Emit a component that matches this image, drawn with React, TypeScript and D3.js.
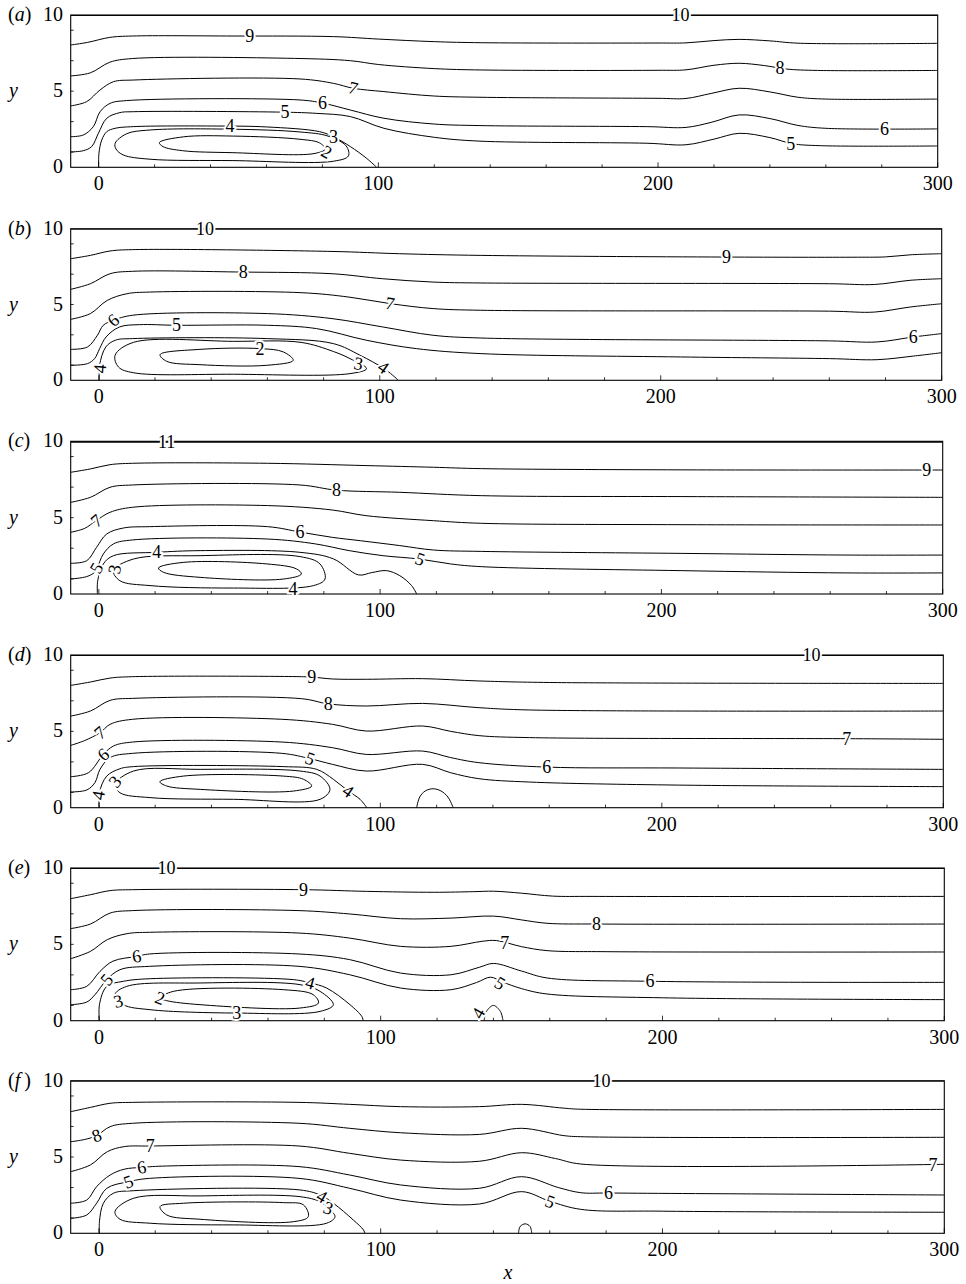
import React from "react";
import * as d3 from "d3";

type Pt = [number, number];
interface Contour { level: number; pts: Pt[]; closed?: boolean }
interface Label { t: string; x: number; y: number; rot?: number }

// axis ticks
const xTicks = [0, 20, 40, 60, 80, 100, 120, 140, 160, 180, 200, 220, 240, 260, 280, 300];
const xTickLabels = [0, 100, 200, 300];
const yTicks = [1, 3, 5, 7, 9];
const yTickLabels = [0, 5, 10];
const panelLetters = ["a", "b", "c", "d", "e", "f"];

// ---- panel (a)
const aLines: Contour[] = [
  { level: 10, pts: [[-10, 9.97], [300, 9.97]] },
  { level: 9, pts: [[-10, 8.03], [-4, 8.2], [4, 8.53], [12, 8.62], [48, 8.62], [84, 8.58], [100, 8.42], [120, 8.25], [137, 8.18], [200, 8.16], [210, 8.17], [220, 8.32], [229, 8.4], [240, 8.3], [250, 8.15], [300, 8.14]] },
  { level: 8, pts: [[-10, 6.0], [-3, 6.2], [4, 6.9], [12, 7.14], [70, 7.15], [90, 7.0], [100, 6.75], [120, 6.48], [137, 6.39], [200, 6.37], [210, 6.4], [220, 6.7], [229, 6.83], [238, 6.68], [246, 6.45], [257, 6.36], [300, 6.36]] },
  { level: 7, pts: [[-10, 4.03], [-4.3, 4.31], [0.5, 5.08], [5.3, 5.62], [12.4, 5.73], [72, 5.8], [84, 5.51], [91, 5.19], [102, 4.97], [120, 4.68], [136, 4.6], [200, 4.53], [210, 4.52], [219, 4.85], [229, 5.19], [240, 4.95], [250, 4.6], [260, 4.48], [300, 4.48]] },
  { level: 6, pts: [[-10, 2.01], [-5.5, 2.12], [-1.9, 2.67], [0.5, 3.65], [4.1, 4.2], [10, 4.38], [72, 4.42], [80, 4.22], [90, 3.76], [102, 3.22], [120, 2.84], [136, 2.74], [196, 2.67], [210, 2.62], [219, 2.95], [229, 3.44], [240, 3.2], [250, 2.75], [260, 2.56], [300, 2.52]] },
  { level: 5, pts: [[-10, 1.01], [-5.5, 1.09], [-2.5, 1.36], [-0.1, 2.23], [2.9, 3.22], [7.6, 3.59], [12.4, 3.65], [66, 3.62], [78, 3.54], [90, 3.33], [102, 2.56], [120, 1.97], [136, 1.72], [196, 1.58], [210, 1.48], [220, 1.85], [229, 2.23], [240, 1.95], [248, 1.55], [258, 1.42], [300, 1.4]] },
  { level: 4, pts: [[0, 0], [0.1, 0.92], [1.1, 1.79], [2.9, 2.34], [5.9, 2.56], [12.4, 2.67], [42, 2.71], [60, 2.65], [79, 2.34], [84, 2.0], [90, 1.36], [95.8, 0.59], [99.4, 0]] },
  { level: 3, closed: true, pts: [[5.9, 1.58], [10, 2.2], [18.4, 2.45], [48, 2.5], [72, 2.32], [82, 2.05], [88.5, 1.4], [89.3, 0.75], [84, 0.4], [48, 0.44], [18.4, 0.53], [8.8, 0.81], [6.2, 1.2]] },
  { level: 2, closed: true, pts: [[21.7, 1.62], [30.3, 2.0], [48.2, 2.05], [72, 1.84], [79, 1.6], [81, 1.2], [77, 0.9], [48, 0.96], [30, 1.09], [23, 1.36]] },
];
const aLabels: Label[] = [
  { t: "10", x: 208, y: 9.97 }, { t: "9", x: 54, y: 8.62 }, { t: "8", x: 243.6, y: 6.5 },
  { t: "7", x: 91, y: 5.2, rot: 15 }, { t: "6", x: 80, y: 4.22 }, { t: "6", x: 281, y: 2.52 },
  { t: "5", x: 66.6, y: 3.6 }, { t: "5", x: 247.5, y: 1.52 }, { t: "4", x: 47, y: 2.69 },
  { t: "3", x: 84, y: 2.0 }, { t: "2", x: 81.5, y: 1.0, rot: 30 },
];

// ---- panel (b)
const bLines: Contour[] = [
  { level: 10, pts: [[-10, 9.97], [300, 9.97]] },
  { level: 9, pts: [[-10, 8.02], [-3, 8.24], [4, 8.53], [12, 8.62], [83, 8.5], [107, 8.35], [136, 8.24], [223, 8.13], [270, 8.12], [280, 8.14], [289, 8.28], [300, 8.35]] },
  { level: 8, pts: [[-10, 6.0], [-3, 6.37], [4, 7.03], [12, 7.19], [51, 7.14], [83, 7.03], [101, 6.7], [119, 6.48], [136, 6.42], [260, 6.37], [276, 6.32], [289, 6.6], [300, 6.7]] },
  { level: 7, pts: [[-10, 4.02], [-3, 4.4], [3, 5.27], [10, 5.71], [18, 5.82], [72, 5.78], [89, 5.49], [104, 5.05], [119, 4.73], [136, 4.62], [260, 4.56], [276, 4.5], [289, 4.84], [300, 5.05]] },
  { level: 6, pts: [[-10, 2.04], [-4, 2.2], [-0.5, 2.97], [1.6, 3.63], [5.2, 3.96], [12, 4.29], [60, 4.4], [83, 4.07], [101, 3.52], [119, 2.97], [136, 2.79], [260, 2.6], [277, 2.53], [290, 2.86], [300, 3.08]] },
  { level: 5, pts: [[-10, 0.99], [-4, 1.1], [-1.5, 1.43], [0.3, 2.09], [2.6, 2.86], [7.4, 3.52], [14.5, 3.67], [27.7, 3.63], [60, 3.63], [77.5, 3.41], [95.3, 2.64], [113, 2.09], [136, 1.76], [207, 1.54], [260, 1.43], [277, 1.36], [290, 1.6], [300, 1.82]] },
  { level: 4, pts: [[0.2, 0], [0.3, 1.0], [2.5, 2.2], [6, 2.65], [12, 2.75], [60, 2.75], [83.5, 2.42], [93, 1.65], [101.3, 0.8], [104.5, 0.35], [106.6, 0]] },
  { level: 3, closed: true, pts: [[5.8, 1.65], [12.3, 2.5], [48, 2.57], [72, 2.5], [83.5, 1.9], [89.4, 1.43], [95.3, 0.77], [89.4, 0.44], [47.9, 0.4], [12.3, 0.5], [7, 0.88]] },
  { level: 2, closed: true, pts: [[21.8, 1.69], [36, 2.04], [57.4, 2.09], [65.7, 1.87], [69.2, 1.32], [59.8, 0.99], [36, 1.03], [24.2, 1.25]] },
];
const bLabels: Label[] = [
  { t: "10", x: 37.8, y: 9.97 }, { t: "9", x: 223.4, y: 8.13 }, { t: "8", x: 51.4, y: 7.14 },
  { t: "7", x: 103.6, y: 5.05, rot: 10 }, { t: "6", x: 5.2, y: 3.96, rot: -40 }, { t: "6", x: 289.9, y: 2.86 },
  { t: "5", x: 27.7, y: 3.63 }, { t: "2", x: 57.4, y: 2.09 }, { t: "3", x: 92.4, y: 1.1, rot: 10 },
  { t: "4", x: 101.3, y: 0.85, rot: 35 }, { t: "4", x: 0.4, y: 0.77, rot: -85 },
];

// ---- panel (c)
const cLines: Contour[] = [
  { level: 11, pts: [[-10, 9.96], [300, 9.96]] },
  { level: 9, pts: [[-10, 7.97], [-3, 8.19], [4, 8.47], [12, 8.56], [60, 8.56], [95, 8.41], [119, 8.3], [136, 8.21], [207, 8.13], [300, 8.12]] },
  { level: 8, pts: [[-10, 6.0], [-3, 6.33], [4, 6.99], [12, 7.14], [71.5, 7.14], [84.5, 6.8], [107, 6.66], [136, 6.44], [207, 6.38], [300, 6.33]] },
  { level: 7, pts: [[-10, 4.04], [-5, 4.3], [-1, 4.8], [4, 5.35], [12, 5.68], [60, 5.79], [83, 5.5], [95, 5.13], [119, 4.8], [136, 4.63], [207, 4.54], [300, 4.52]] },
  { level: 6, pts: [[-10, 2.01], [-4.3, 2.18], [-0.8, 3.06], [2.8, 3.93], [8.7, 4.32], [18, 4.41], [60, 4.41], [71.5, 4.06], [83, 3.71], [93, 3.49], [107, 3.17], [119, 2.88], [136, 2.79], [207, 2.66], [266, 2.55], [300, 2.55]] },
  { level: 5, pts: [[-10, 0.98], [-4.3, 1.14], [-1.5, 1.42], [-0.6, 1.7], [1.6, 2.62], [5.2, 3.28], [12, 3.54], [60, 3.6], [77, 3.28], [89, 2.84], [101, 2.51], [114, 2.29], [125, 1.97], [136, 1.79], [207, 1.53], [266, 1.38], [300, 1.38]] },
  { level: 4, pts: [[-0.5, 0], [-0.4, 0.87], [1.6, 1.97], [5.2, 2.51], [20.6, 2.73], [36, 2.84], [71.5, 2.73], [83.4, 2.3], [92.3, 1.25], [97, 1.4], [102.3, 1.53], [107, 1.2], [111.2, 0.55], [113, 0]] },
  { level: 3, closed: true, pts: [[5.2, 1.53], [12.3, 2.29], [36, 2.51], [71.5, 2.45], [78.6, 1.97], [80.4, 0.98], [76.3, 0.55], [47.8, 0.39], [18.2, 0.55], [7.5, 0.87]] },
  { level: 2, closed: true, pts: [[21.2, 1.7], [30, 2.07], [59.7, 1.97], [70.3, 1.64], [72, 1.31], [65.6, 0.98], [36, 1.09], [23, 1.42]] },
];
const cLabels: Label[] = [
  { t: "11", x: 24.1, y: 9.96 }, { t: "9", x: 294.3, y: 8.12 }, { t: "8", x: 84.5, y: 6.8 },
  { t: "7", x: -0.8, y: 4.8, rot: -40 }, { t: "6", x: 71.5, y: 4.06 }, { t: "5", x: -0.8, y: 1.7, rot: -60 },
  { t: "5", x: 114.2, y: 2.29, rot: 20 }, { t: "4", x: 20.6, y: 2.73 }, { t: "3", x: 5.6, y: 1.62, rot: -80 },
  { t: "4", x: 69, y: 0.33 },
];

// ---- panel (d)
const dLines: Contour[] = [
  { level: 10, pts: [[-10, 9.97], [300, 9.97]] },
  { level: 9, pts: [[-10, 8.01], [-3, 8.23], [4, 8.49], [12, 8.58], [72, 8.58], [76, 8.55], [83, 8.43], [95, 8.41], [115, 8.45], [135, 8.3], [160, 8.2], [300, 8.14]] },
  { level: 8, pts: [[-10, 6.0], [-3, 6.33], [4, 7.03], [12, 7.16], [72, 7.14], [81.5, 6.8], [95, 6.66], [115, 6.83], [135, 6.55], [153, 6.4], [300, 6.33]] },
  { level: 7, pts: [[-10, 4.08], [-5, 4.4], [0.4, 4.91], [4, 5.46], [12, 5.79], [65, 5.79], [83, 5.46], [95, 5.02], [115, 5.35], [125, 5.0], [135, 4.72], [153, 4.59], [266, 4.52], [300, 4.48]] },
  { level: 6, pts: [[-10, 2.03], [-3.7, 2.29], [1.6, 3.49], [5.2, 4.04], [12, 4.3], [65, 4.3], [83, 3.93], [95, 3.49], [115, 3.71], [125, 3.28], [135, 2.95], [159, 2.66], [206, 2.6], [300, 2.51]] },
  { level: 5, pts: [[-10, 1.03], [-4.3, 1.16], [-1.4, 1.64], [0.4, 2.51], [4, 3.28], [12, 3.56], [65, 3.56], [75, 3.21], [83, 2.84], [95, 2.4], [115, 2.84], [125, 2.29], [135, 1.9], [153, 1.68], [206, 1.48], [300, 1.38]] },
  { level: 4, pts: [[0.2, 0], [0.2, 0.98], [2.8, 2.07], [7.5, 2.55], [12.3, 2.69], [65.5, 2.69], [77.4, 2.51], [83.3, 1.86], [88.6, 1.09], [92.8, 0.55], [95.2, 0]] },
  { level: 3, closed: true, pts: [[5.8, 1.53], [12.3, 2.4], [36, 2.51], [71.5, 2.4], [78.6, 2.07], [82.1, 1.2], [78.6, 0.55], [47.8, 0.55], [18.2, 0.66], [7.5, 0.98]] },
  { level: 2, closed: true, pts: [[21.7, 1.7], [30, 2.07], [65.5, 2.07], [72.7, 1.86], [75.6, 1.42], [69.1, 1.09], [36, 1.2], [24.1, 1.42]] },
  { level: 4, pts: [[112.9, 0], [114, 0.7], [116, 1.1], [118.8, 1.24], [121.5, 1.1], [124, 0.7], [125.9, 0]] },
];
const dLabels: Label[] = [
  { t: "10", x: 253.2, y: 9.97 }, { t: "9", x: 75.6, y: 8.55 }, { t: "8", x: 81.5, y: 6.8 },
  { t: "7", x: 0.4, y: 4.91, rot: -40 }, { t: "7", x: 265.7, y: 4.52 }, { t: "6", x: 1.6, y: 3.49, rot: -40 },
  { t: "6", x: 159.1, y: 2.66 }, { t: "5", x: 75, y: 3.21, rot: 20 }, { t: "4", x: 88.6, y: 1.09, rot: 35 },
  { t: "4", x: -0.2, y: 0.81, rot: -80 }, { t: "3", x: 5.8, y: 1.7, rot: -50 },
];

// ---- panel (e)
const eLines: Contour[] = [
  { level: 10, pts: [[-10, 9.97], [300, 9.97]] },
  { level: 9, pts: [[-10, 7.99], [-3, 8.25], [4, 8.52], [12, 8.58], [72.6, 8.58], [95, 8.47], [119, 8.41], [133, 8.45], [140, 8.48], [150, 8.35], [161, 8.16], [175, 8.14], [300, 8.14]] },
  { level: 8, pts: [[-10, 6.03], [-3, 6.33], [4, 7.05], [12, 7.21], [71, 7.21], [89, 6.99], [107, 6.68], [125, 6.72], [140, 6.85], [150, 6.6], [159, 6.38], [177, 6.33], [300, 6.33]] },
  { level: 7, pts: [[-10, 4.06], [-3, 4.54], [3, 5.31], [10, 5.7], [18, 5.79], [71, 5.74], [89, 5.41], [107, 4.87], [125, 4.87], [136, 5.2], [141, 5.25], [150, 4.85], [159, 4.59], [180, 4.52], [300, 4.5]] },
  { level: 6, pts: [[-10, 2.03], [-4.3, 2.25], [0.4, 3.23], [5, 3.9], [13.4, 4.21], [18, 4.37], [71, 4.37], [89, 4.0], [107, 3.12], [125, 3.01], [135, 3.5], [140, 3.75], [150, 3.25], [159, 2.8], [196, 2.58], [300, 2.51]] },
  { level: 5, pts: [[-10, 1.05], [-4.3, 1.22], [-1.4, 1.7], [2.8, 2.69], [7.5, 3.34], [18, 3.56], [71, 3.56], [89, 3.01], [107, 2.14], [125, 2.03], [134, 2.5], [139, 2.85], [143, 2.55], [150, 2.1], [159, 1.75], [200, 1.5], [300, 1.38]] },
  { level: 4, pts: [[0.2, 0], [0.2, 1.05], [2.8, 2.25], [8.7, 2.58], [18.2, 2.75], [69, 2.69], [75, 2.47], [80.8, 2.14], [89.1, 1.05], [93.3, 0.28], [93.8, 0]] },
  { level: 3, closed: true, pts: [[5.7, 1.7], [9.9, 2.25], [35.9, 2.47], [71.4, 2.36], [78.5, 1.92], [83.2, 1.05], [78.5, 0.61], [48.9, 0.5], [18.2, 0.72], [8.7, 1.05]] },
  { level: 2, closed: true, pts: [[21.7, 1.48], [26.4, 1.92], [65.5, 2.03], [76.1, 1.7], [77.9, 1.16], [71.4, 0.83], [35.9, 1.05], [24.1, 1.31]] },
  { level: 4, pts: [[136.7, 0], [137.5, 0.6], [140, 1.0], [142.5, 0.6], [143.4, 0]] },
];
const eLabels: Label[] = [
  { t: "10", x: 24, y: 9.97 }, { t: "9", x: 72.6, y: 8.58 }, { t: "8", x: 176.6, y: 6.33 },
  { t: "7", x: 144, y: 5.1 }, { t: "6", x: 13.4, y: 4.21, rot: -10 }, { t: "6", x: 195.6, y: 2.58 },
  { t: "5", x: 2.8, y: 2.69, rot: -50 }, { t: "5", x: 142.3, y: 2.45, rot: 30 }, { t: "4", x: 75, y: 2.47, rot: 15 },
  { t: "3", x: 6.9, y: 1.27, rot: -15 }, { t: "3", x: 48.9, y: 0.5 }, { t: "2", x: 21.7, y: 1.48, rot: 20 },
  { t: "4", x: 134.6, y: 0.5, rot: -60 },
];

// ---- panel (f)
const fLines: Contour[] = [
  { level: 10, pts: [[-10, 9.97], [300, 9.97]] },
  { level: 9, pts: [[-10, 7.97], [-3, 8.25], [4, 8.52], [12, 8.58], [71, 8.58], [89, 8.45], [107, 8.3], [135, 8.3], [150, 8.45], [165, 8.2], [171, 8.13], [300, 8.12]] },
  { level: 8, pts: [[-10, 6.0], [-5, 6.15], [-0.8, 6.4], [4, 6.99], [12, 7.21], [71, 7.21], [89, 6.88], [107, 6.59], [135, 6.48], [150, 6.88], [165, 6.4], [171, 6.33], [300, 6.29]] },
  { level: 7, pts: [[-10, 4.04], [-3, 4.48], [3, 5.35], [9, 5.68], [18, 5.72], [71, 5.72], [89, 5.24], [107, 4.8], [135, 4.72], [150, 5.28], [162, 4.9], [171, 4.54], [300, 4.52]] },
  { level: 6, pts: [[-10, 1.97], [-4.3, 2.18], [-0.8, 3.06], [4, 3.82], [9, 4.2], [15.2, 4.32], [24, 4.41], [71, 4.37], [89, 3.82], [107, 3.17], [135, 2.95], [150, 3.71], [163, 3.0], [171, 2.66], [181, 2.64], [300, 2.51]] },
  { level: 5, pts: [[-10, 0.98], [-4.3, 1.2], [-0.8, 1.97], [2.8, 2.95], [10.5, 3.38], [18, 3.6], [71, 3.6], [89, 2.95], [107, 2.18], [135, 1.92], [150, 2.73], [160, 2.1], [171, 1.57], [200, 1.45], [300, 1.38]] },
  { level: 4, pts: [[0.2, 0], [0.2, 0.76], [1.6, 1.97], [5.1, 2.62], [12.2, 2.79], [71.4, 2.84], [78.5, 2.51], [83.2, 1.97], [90.3, 0.87], [93.9, 0.22], [94.4, 0]] },
  { level: 3, closed: true, pts: [[5.7, 1.42], [12.2, 2.29], [35.9, 2.45], [71.4, 2.4], [78.5, 2.07], [81.4, 1.64], [83.8, 1.09], [80.8, 0.66], [47.7, 0.55], [18.2, 0.66], [7.5, 0.92]] },
  { level: 2, closed: true, pts: [[21.7, 1.75], [30, 1.97], [65.5, 2.01], [72.6, 1.86], [74.3, 1.09], [69, 0.76], [35.9, 0.92], [24.1, 1.2]] },
  { level: 4, pts: [[148.9, 0], [149.5, 0.45], [151.3, 0.62], [153, 0.45], [153.6, 0]] },
];
const fLabels: Label[] = [
  { t: "10", x: 178.4, y: 9.97 }, { t: "8", x: -0.8, y: 6.4, rot: -20 }, { t: "7", x: 18.2, y: 5.72 },
  { t: "7", x: 296, y: 4.45 }, { t: "6", x: 15.2, y: 4.32, rot: -10 }, { t: "6", x: 180.8, y: 2.66 },
  { t: "5", x: 10.5, y: 3.38, rot: -20 }, { t: "5", x: 160.1, y: 2.07, rot: 20 }, { t: "4", x: 79.1, y: 2.4, rot: 30 },
  { t: "3", x: 81.4, y: 1.64, rot: 20 },
];

const FONT = "'Liberation Serif', 'Times New Roman', 'DejaVu Serif', serif";
const LEFT = 70.7;

const panels = [
  { top: 15, bottom: 167.3, right: 937.7, lines: aLines, labels: aLabels },
  { top: 228.7, bottom: 380.3, right: 941.7, lines: bLines, labels: bLabels },
  { top: 441.3, bottom: 594, right: 942.7, lines: cLines, labels: cLabels },
  { top: 655, bottom: 807.7, right: 943.3, lines: dLines, labels: dLabels },
  { top: 868, bottom: 1020.7, right: 944.3, lines: eLines, labels: eLabels },
  { top: 1080.7, bottom: 1233.3, right: 944.3, lines: fLines, labels: fLabels },
];

const textStyle = { fontFamily: FONT };

function Panel({ idx }: { idx: number }) {
  const p = panels[idx];
  const x = d3.scaleLinear().domain([-10, 300]).range([LEFT, p.right]);
  const y = d3.scaleLinear().domain([0, 10]).range([p.bottom, p.top]);
  const open = d3.line<Pt>().x((d) => x(d[0])).y((d) => y(d[1])).curve(d3.curveCatmullRom.alpha(0.5));
  const closed = d3.line<Pt>().x((d) => x(d[0])).y((d) => y(d[1])).curve(d3.curveCatmullRomClosed.alpha(0.5));
  const clipId = `clip-${idx}`;
  const letter = panelLetters[idx];

  return (
    <g>
      <clipPath id={clipId}>
        <rect x={LEFT} y={p.top} width={p.right - LEFT} height={p.bottom - p.top} />
      </clipPath>
      <rect x={LEFT} y={p.top} width={p.right - LEFT} height={p.bottom - p.top} fill="none" stroke="#000" strokeWidth={1.1} />
      <g clipPath={`url(#${clipId})`}>
        {p.lines.map((c, i) => (
          <path
            key={i}
            d={(c.closed ? closed : open)(c.pts) || ""}
            fill="none"
            stroke="#000"
            strokeWidth={c.level === 11 ? 1.6 : 1}
          />
        ))}
      </g>
      {/* ticks */}
      {xTicks.map((t) => (
        <line key={`xt${t}`} x1={x(t)} x2={x(t)} y1={p.bottom} y2={p.bottom - (t % 100 === 0 ? 5 : 3)} stroke="#000" strokeWidth={0.8} />
      ))}
      {yTicks.map((t) => (
        <line key={`yt${t}`} x1={LEFT} x2={LEFT + 3} y1={y(t)} y2={y(t)} stroke="#000" strokeWidth={0.8} />
      ))}
      {xTickLabels.map((t) => (
        <text key={`xl${t}`} x={x(t)} y={p.bottom + 23} textAnchor="middle" style={textStyle} fontSize={20}>
          {t}
        </text>
      ))}
      {yTickLabels.map((t) => (
        <text key={`yl${t}`} x={63} y={y(t) + 6} textAnchor="end" style={textStyle} fontSize={20}>
          {t}
        </text>
      ))}
      <text x={8} y={y(10) + 6} style={textStyle} fontSize={20}>
        (<tspan fontStyle="italic">{letter}</tspan>{letter === "f" ? "\u2009)" : ")"}
      </text>
      <text x={9} y={y(5) + 6} style={textStyle} fontSize={20} fontStyle="italic">
        y
      </text>
      {/* contour labels */}
      {p.labels.map((l, i) => {
        const cx = x(l.x);
        const cy = y(l.y);
        return (
          <text
            key={`cl${i}`}
            x={cx}
            y={cy}
            textAnchor="middle"
            dominantBaseline="central"
            style={textStyle}
            fontSize={18}
            stroke="#fff"
            strokeWidth={4}
            paintOrder="stroke"
            fill="#000"
            transform={l.rot ? `rotate(${l.rot},${cx},${cy})` : undefined}
          >
            {l.t}
          </text>
        );
      })}
    </g>
  );
}

export default function App() {
  return (
    <svg
      width={966}
      height={1284}
      viewBox="0 0 966 1284"
      style={{ position: "absolute", left: 0, top: 0, background: "#fff" }}
    >
      <rect x={0} y={0} width={966} height={1284} fill="#fff" />
      {panels.map((_, i) => (
        <Panel key={i} idx={i} />
      ))}
      <text x={508} y={1279} textAnchor="middle" style={textStyle} fontSize={20} fontStyle="italic">
        x
      </text>
    </svg>
  );
}
